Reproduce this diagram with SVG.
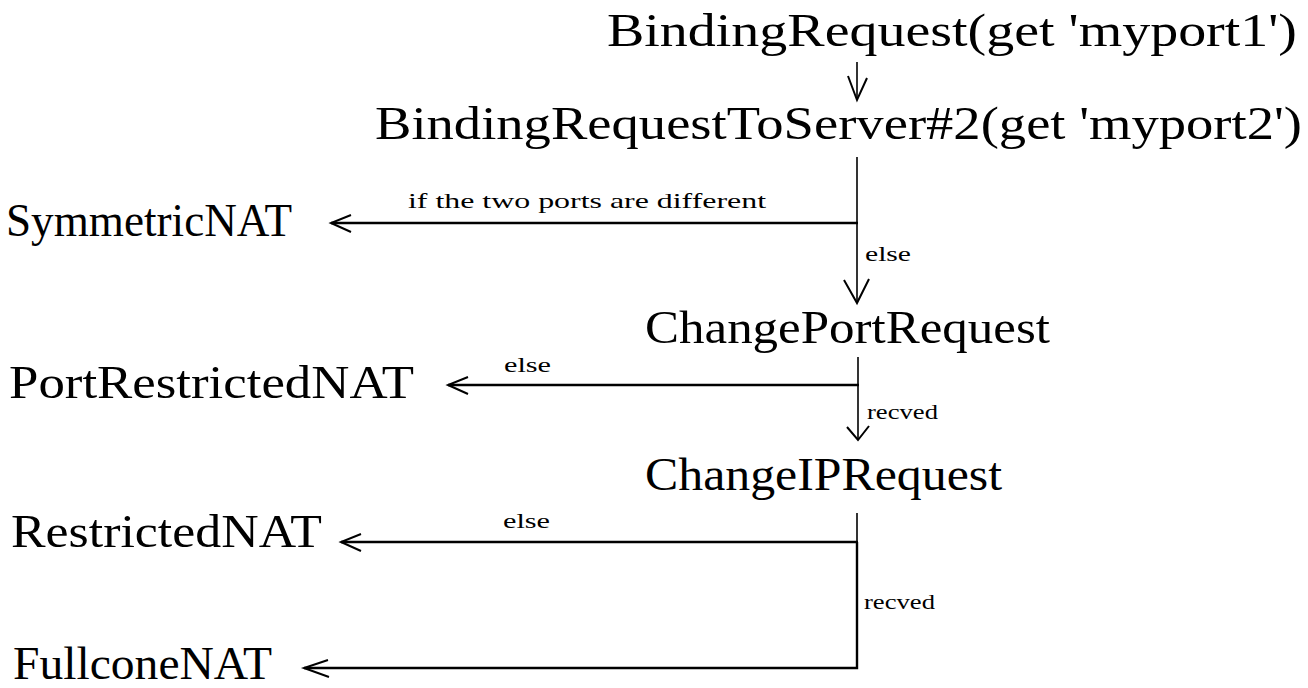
<svg xmlns="http://www.w3.org/2000/svg" width="1308" height="688" viewBox="0 0 1308 688">
<style>
.big{font-family:"Liberation Serif","DejaVu Serif",serif;font-size:46px;fill:#000}
.small{font-family:"Liberation Serif","DejaVu Serif",serif;font-size:21px;fill:#000}
.thin{stroke:#000;stroke-width:1.6;fill:none}
.thick{stroke:#000;stroke-width:2.4;fill:none}
.head{stroke:#000;stroke-width:2;fill:none;stroke-linejoin:miter}
</style>
<rect width="1308" height="688" fill="#fff"/>
<g id="n-binding1"><text class="big" x="607" y="46" textLength="690" lengthAdjust="spacingAndGlyphs">BindingRequest(get 'myport1')</text></g>
<g id="n-binding2"><text class="big" x="375" y="139" textLength="927" lengthAdjust="spacingAndGlyphs">BindingRequestToServer#2(get 'myport2')</text></g>
<g id="n-symmetric"><text class="big" x="6" y="236" textLength="286" lengthAdjust="spacingAndGlyphs">SymmetricNAT</text></g>
<g id="n-changeport"><text class="big" x="645" y="343" textLength="405" lengthAdjust="spacingAndGlyphs">ChangePortRequest</text></g>
<g id="n-portrestricted"><text class="big" x="9" y="398" textLength="405" lengthAdjust="spacingAndGlyphs">PortRestrictedNAT</text></g>
<g id="n-changeip"><text class="big" x="645" y="490" textLength="357" lengthAdjust="spacingAndGlyphs">ChangeIPRequest</text></g>
<g id="n-restricted"><text class="big" x="11" y="547" textLength="311" lengthAdjust="spacingAndGlyphs">RestrictedNAT</text></g>
<g id="n-fullcone"><text class="big" x="13" y="679" textLength="259" lengthAdjust="spacingAndGlyphs">FullconeNAT</text></g>
<g id="connectors">
<line class="thin" x1="857" y1="62" x2="857" y2="99"/>
<polyline class="head" points="848,76 857,100 867,78"/>
<line class="thin" x1="857" y1="157" x2="857" y2="302"/>
<polyline class="head" points="844,280 857,303 869,279"/>
<line class="thick" x1="858" y1="223" x2="331" y2="223"/>
<polyline class="head" points="351,215 331,223 351,232"/>
<text class="small" x="408" y="208" textLength="358" lengthAdjust="spacingAndGlyphs">if the two ports are different</text>
<text class="small" x="865" y="261" textLength="46" lengthAdjust="spacingAndGlyphs">else</text>
<line class="thin" x1="858" y1="357" x2="858" y2="439"/>
<polyline class="head" points="847,427 858,440 869,426"/>
<line class="thick" x1="859" y1="385" x2="448" y2="385"/>
<polyline class="head" points="468,377 448,385 468,394"/>
<text class="small" x="504" y="372" textLength="47" lengthAdjust="spacingAndGlyphs">else</text>
<text class="small" x="867" y="419" textLength="71" lengthAdjust="spacingAndGlyphs">recved</text>
<line class="thin" x1="857" y1="513" x2="857" y2="542"/>
<line class="thick" x1="858" y1="542" x2="341" y2="542"/>
<polyline class="head" points="361,534 341,542 361,551"/>
<text class="small" x="503" y="528" textLength="47" lengthAdjust="spacingAndGlyphs">else</text>
<polyline class="thick" points="857,542 857,668 304,668"/>
<polyline class="head" points="328,660 304,668 329,677"/>
<text class="small" x="864" y="609" textLength="71" lengthAdjust="spacingAndGlyphs">recved</text>
</g>
</svg>
